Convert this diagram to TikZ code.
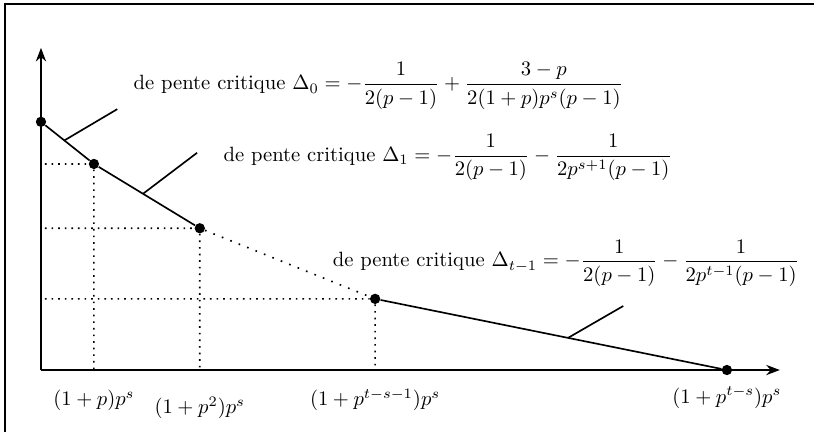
\documentclass[tikz,border=0pt]{standalone}
\usepackage{amsmath, amssymb}
\usepackage{tikz}
\usetikzlibrary{arrows.meta, positioning}

\begin{document}
\begin{tikzpicture}[
                scale=0.97,
                >=Stealth,
                dot/.style={circle, fill, inner sep=0pt, minimum size=5pt},
                guide/.style={line width=0.8pt, dash pattern=on 0.8pt off 2.4pt},
                slope/.style={anchor=base west, inner sep=0pt},
                abscissa/.style={anchor=base}
            ]

            \useasboundingbox (0,0) rectangle (14.30,7.59);
            \draw[line width=0.9pt] (0.09,0) |- (14.30,7.52);

            \coordinate (O) at (0.72,1.09);
            \coordinate (Y) at (0.72,6.75);
            \coordinate (X) at (13.70,1.09);

            \node[dot] (P0) at (0.72,5.45) {};
            \node[dot] (P1) at (1.65,4.71) {};
            \node[dot] (P2) at (3.51,3.58) {};
            \node[dot] (P3) at (6.59,2.34) {};
            \node[dot] (P4) at (12.77,1.09) {};

            \draw[->, thick] (O) -- (Y);
            \draw[->, thick] (O) -- (X);

            % the polygon
            \draw[thick] (P0) -- coordinate[pos=0.43] (m0) (P1);
            \draw[thick] (P1) -- coordinate[pos=0.46] (m1) (P2);
            \draw[line width=0.8pt, dash pattern=on 0.8pt off 3.6pt] (P2) -- (P3);
            \draw[thick] (P3) -- coordinate[pos=0.55] (m2) (P4);

            % guides to the axes
            \draw[guide] ([xshift=2pt]P1 -| O) -- (P1) -- (P1 |- O);
            \draw[guide] ([xshift=2pt]P2 -| O) -- (P2) -- (P2 |- O);
            \draw[guide] ([xshift=2pt]P3 -| O) -- (P3) -- (P3 |- O);

            \draw[thick] (m0) -- ++(0.93,0.55);
            \draw[thick] (m1) -- ++(0.95,0.72);
            \draw[thick] (m2) -- ++(0.97,0.56);

            \node[slope] (S0) at (2.34,6.01) {de pente critique $\displaystyle \Delta_0 = -\frac{1}{2(p-1)} + \frac{3-p}{2(1+p)p^s(p-1)}$};
            \node[slope] (S1) at (3.92,4.76) {de pente critique $\displaystyle \Delta_1 = -\frac{1}{2(p-1)} - \frac{1}{2p^{s+1}(p-1)}$};
            \node[slope] (S2) at (5.84,2.90) {de pente critique $\displaystyle \Delta_{t-1} = -\frac{1}{2(p-1)} - \frac{1}{2p^{t-1}(p-1)}$};

            \node[abscissa] (A1) at ([yshift=-0.63cm]P1 |- O) {$(1+p)p^s$};
            \node[abscissa] (A2) at ([yshift=-0.77cm]P2 |- O) {$(1+p^2)p^s$};
            \node[abscissa] (A3) at ([yshift=-0.63cm]P3 |- O) {$(1+p^{t-s-1})p^s$};
            \node[abscissa] (A4) at ([yshift=-0.58cm]P4 |- O) {$(1+p^{t-s})p^s$};

        \end{tikzpicture}
\end{document}
